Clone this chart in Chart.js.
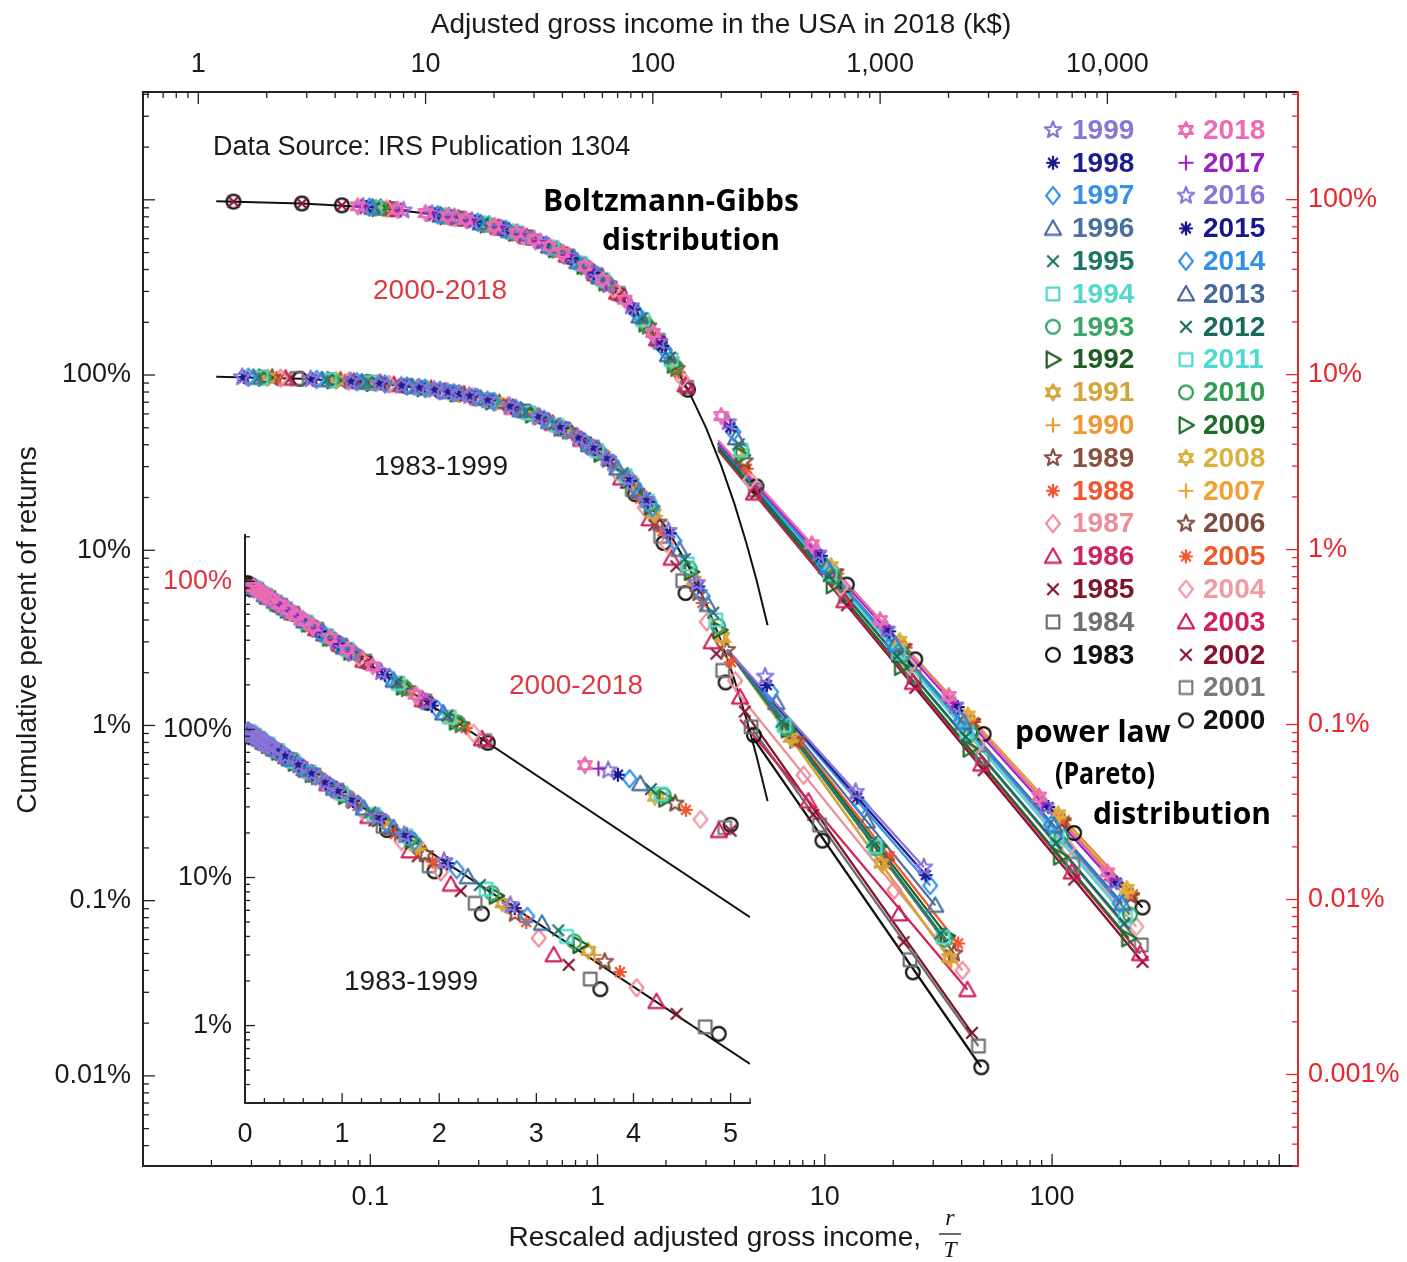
<!DOCTYPE html>
<html>
<head>
<meta charset="utf-8">
<script src="https://cdn.jsdelivr.net/npm/chart.js@4.4.1/dist/chart.umd.min.js"></script>
<style>
  html, body { margin: 0; padding: 0; background: #fff; }
  #wrap { position: relative; width: 1407px; height: 1262px; }
  #main { position: absolute; left: 0; top: 0; }
  #inset { position: absolute; left: 150px; top: 520px; }
</style>
</head>
<body>
<div id="wrap">
  <canvas id="main" width="1407" height="1262"></canvas>
  <canvas id="inset" width="610" height="640"></canvas>
</div>
<script>
// ---- data (percent of returns above rescaled income r/T) ----
var lowerYears = [1983,1984,1985,1986,1987,1988,1989,1990,1991,1992,1993,1994,1995,1996,1997,1998,1999];
var upperYears = [2000,2001,2002,2003,2004,2005,2006,2007,2008,2009,2010,2011,2012,2013,2014,2015,2016,2017,2018];

// Boltzmann-Gibbs part, 1983-1999 (last point of 1983-87 is the knee)
var lowerBody = [
  [[0.049,95.2],[0.098,90.7],[0.146,86.4],[0.244,78.3],[0.341,71.1],[0.488,61.4],[0.732,48.1],[0.976,37.7],[1.463,20.9],[1.951,11.0],[2.439,5.7],[3.659,1.76],[4.878,0.88]],
  [[0.0474,95.4],[0.0948,91.0],[0.142,86.8],[0.237,78.9],[0.332,71.7],[0.474,62.3],[0.711,49.1],[0.948,38.8],[1.422,22.2],[1.896,12.0],[2.370,6.7],[3.555,2.06],[4.739,0.98]],
  [[0.0444,95.7],[0.0889,91.5],[0.133,87.5],[0.222,80.1],[0.311,73.3],[0.444,64.1],[0.667,51.3],[0.889,41.1],[1.333,24.3],[1.778,13.9],[2.222,8.1],[3.333,2.57],[4.444,1.2]],
  [[0.0424,95.8],[0.0847,91.9],[0.127,88.1],[0.212,80.9],[0.297,74.3],[0.424,65.4],[0.636,52.9],[0.847,42.9],[1.271,25.8],[1.695,15.1],[2.119,9.0],[3.178,3.0],[4.237,1.45]],
  [[0.0403,96.0],[0.0806,92.3],[0.121,88.6],[0.202,81.7],[0.282,75.4],[0.403,66.8],[0.605,54.6],[0.806,44.7],[1.21,28.3],[1.613,17.5],[2.016,10.9],[3.024,3.9],[4.032,1.8]],
  [[0.0386,96.2],[0.0772,92.6],[0.116,89.0],[0.193,82.4],[0.270,76.3],[0.386,68.0],[0.579,56.0],[0.772,46.2],[1.158,30.5],[1.544,19.7],[1.931,12.8],[2.896,5.0],[3.861,2.3]],
  [[0.037,96.4],[0.074,92.9],[0.111,89.5],[0.185,83.1],[0.259,77.2],[0.370,69.1],[0.556,57.3],[0.741,47.7],[1.111,32.9],[1.481,21.6],[1.852,14.4],[2.778,5.7],[3.704,2.7]],
  [[0.036,96.5],[0.072,93.1],[0.108,89.8],[0.180,83.5],[0.252,77.7],[0.360,69.8],[0.540,58.3],[0.719,48.7],[1.079,34.0],[1.439,23.7],[1.799,15.7],[2.698,6.4],[3.597,3.0]],
  [[0.0353,96.5],[0.0707,93.2],[0.106,89.9],[0.177,83.8],[0.247,78.1],[0.353,70.3],[0.530,58.9],[0.707,49.3],[1.060,34.6],[1.413,24.3],[1.767,16.2],[2.650,6.7],[3.534,3.2]],
  [[0.0345,96.6],[0.069,93.3],[0.103,90.2],[0.172,84.2],[0.241,78.6],[0.345,70.8],[0.517,59.6],[0.690,50.2],[1.034,35.6],[1.379,25.2],[1.724,17.8],[2.586,7.53],[3.448,3.5]],
  [[0.0339,96.7],[0.0678,93.4],[0.102,90.3],[0.169,84.5],[0.237,78.9],[0.339,71.2],[0.508,60.2],[0.678,50.8],[1.017,36.2],[1.356,25.8],[1.695,18.4],[2.542,7.87],[3.390,3.7]],
  [[0.0331,96.7],[0.0662,93.6],[0.0993,90.5],[0.166,84.7],[0.232,79.3],[0.331,71.8],[0.497,60.8],[0.662,51.6],[0.993,37.0],[1.325,26.6],[1.656,19.1],[2.483,8.35],[3.311,4.0]],
  [[0.0323,96.8],[0.0645,93.8],[0.0968,90.8],[0.161,85.1],[0.226,79.8],[0.323,72.4],[0.484,61.6],[0.645,52.5],[0.968,38.0],[1.290,27.5],[1.613,19.9],[2.419,8.90],[3.226,4.4]],
  [[0.0306,97.0],[0.0612,94.1],[0.0917,91.2],[0.153,85.8],[0.214,80.7],[0.306,73.6],[0.459,63.2],[0.612,54.2],[0.917,40.0],[1.223,29.4],[1.529,21.7],[2.294,10.1],[3.058,4.9]],
  [[0.0291,97.1],[0.0581,94.4],[0.0872,91.6],[0.116,89.0],[0.145,86.5],[0.174,84.0],[0.203,81.6],[0.233,79.2],[0.291,74.8],[0.349,70.5],[0.436,64.7],[0.581,55.9],[0.727,48.3],[0.872,41.8],[1.163,31.3],[1.453,23.4],[1.744,17.5],[2.180,11.3],[2.907,5.46]],
  [[0.0278,97.3],[0.0556,94.6],[0.0833,92.0],[0.111,89.5],[0.139,87.0],[0.167,84.6],[0.194,82.4],[0.222,80.1],[0.25,77.9],[0.278,75.7],[0.333,71.7],[0.417,65.9],[0.556,57.4],[0.694,50.0],[0.833,43.5],[0.972,37.8],[1.111,32.9],[1.389,24.9],[1.667,18.9],[2.083,12.5],[2.778,6.22]],
  [[0.0273,97.3],[0.0546,94.7],[0.082,92.1],[0.109,89.7],[0.137,87.2],[0.164,84.9],[0.191,82.6],[0.219,80.3],[0.246,78.2],[0.273,76.1],[0.328,72.0],[0.410,66.4],[0.546,57.9],[0.683,50.5],[0.820,44.0],[0.956,38.4],[1.093,33.5],[1.366,25.5],[1.639,19.4],[2.049,12.9],[2.732,6.51]]
];
// Pareto tail, 1983-1999
var lowerTail = [
  [[9.76,0.22],[24.4,0.039],[48.8,0.0112]],
  [[9.48,0.27],[23.7,0.046],[47.4,0.0148]],
  [[8.89,0.31],[22.2,0.058],[44.4,0.0176]],
  [[8.47,0.37],[21.2,0.084],[42.4,0.031]],
  [[8.06,0.52],[20.2,0.115],[40.3,0.04]],
  [[7.72,0.81],[19.3,0.179],[38.6,0.057]],
  [[7.41,0.82],[18.5,0.167],[37.0,0.05]],
  [[7.19,0.82],[18.0,0.157],[36.0,0.045]],
  [[7.07,0.85],[17.7,0.163],[35.3,0.047]],
  [[6.90,0.95],[17.2,0.204],[34.5,0.063]],
  [[6.78,0.96],[16.9,0.199],[33.9,0.06]],
  [[6.62,1.0],[16.6,0.204],[33.1,0.062]],
  [[6.45,1.05],[16.1,0.216],[32.3,0.065]],
  [[6.12,1.35],[15.3,0.284],[30.6,0.094]],
  [[5.81,1.55],[14.5,0.348],[29.1,0.122]],
  [[5.56,1.7],[13.9,0.388],[27.8,0.14]],
  [[5.46,1.9],[13.66,0.418],[27.3,0.155]]
];
var lowerFit = [
  [[4.84,0.85],[48.8,0.0112]], [[4.74,0.98],[47.4,0.0148]], [[4.44,1.2],[44.4,0.0176]],
  [[4.24,1.08],[42.4,0.031]], [[4.03,1.6],[40.3,0.04]], [[3.72,2.7],[38.6,0.057]],
  [[3.72,2.7],[37.0,0.05]], [[3.72,2.7],[36.0,0.045]], [[3.72,2.7],[35.3,0.047]],
  [[3.72,2.7],[34.5,0.063]], [[3.72,2.7],[33.9,0.06]], [[3.72,2.7],[33.1,0.062]],
  [[3.72,2.7],[32.3,0.065]], [[3.72,2.7],[30.6,0.094]], [[3.72,2.7],[29.1,0.122]],
  [[3.72,2.7],[27.8,0.14]], [[3.72,2.7],[27.3,0.155]]
];

// Boltzmann-Gibbs part, 2000-2018 (last point is the knee)
var upperBody = [
  [[0.025,97.5],[0.05,95.1],[0.075,92.8],[0.125,88.2],[0.25,77.9],[0.375,68.7],[0.5,60.7],[0.75,47.2],[1.0,36.8],[1.25,28.7],[1.875,15.3],[2.5,8.2],[5.0,2.3]],
  [[0.123,88.4],[0.247,78.1],[0.370,69.1],[0.494,61.0],[0.741,47.7],[0.988,37.2],[1.235,29.1],[1.852,15.7],[2.469,8.47],[4.94,2.2]],
  [[0.025,97.5],[0.05,95.1],[0.075,92.8],[0.125,88.2],[0.25,77.9],[0.375,68.7],[0.5,60.7],[0.75,47.2],[1.0,36.8],[1.25,28.7],[1.875,15.3],[2.5,8.2],[5.0,2.1]],
  [[0.122,88.5],[0.244,78.3],[0.366,69.4],[0.488,61.4],[0.732,48.1],[0.976,37.7],[1.22,29.5],[1.83,16.0],[2.44,8.72],[4.88,2.1]],
  [[0.118,88.9],[0.235,79.1],[0.353,70.3],[0.471,62.4],[0.706,49.4],[0.941,39.0],[1.176,30.9],[1.765,17.1],[2.353,9.51],[4.69,2.5]],
  [[0.114,89.2],[0.227,79.7],[0.341,71.1],[0.455,63.4],[0.682,50.6],[0.909,40.3],[1.136,32.1],[1.705,18.2],[2.273,10.3],[4.54,2.9]],
  [[0.111,89.5],[0.222,80.1],[0.333,71.7],[0.444,64.1],[0.667,51.3],[0.889,41.1],[1.111,32.9],[1.667,18.9],[2.222,10.8],[4.43,3.2]],
  [[0.108,89.8],[0.215,80.7],[0.323,72.4],[0.430,65.0],[0.645,52.5],[0.860,42.3],[1.075,34.1],[1.613,19.9],[2.151,11.6],[4.30,3.45]],
  [[0.106,89.9],[0.213,80.8],[0.319,72.7],[0.426,65.3],[0.638,52.8],[0.851,42.7],[1.064,34.5],[1.596,20.3],[2.128,11.9],[4.22,3.55]],
  [[0.109,89.7],[0.217,80.5],[0.326,72.2],[0.435,64.7],[0.652,52.1],[0.870,41.9],[1.087,33.7],[1.630,19.6],[2.174,11.4],[4.33,3.45]],
  [[0.110,89.6],[0.220,80.3],[0.330,71.9],[0.440,64.4],[0.659,51.7],[0.879,41.5],[1.099,33.3],[1.648,19.2],[2.198,11.1],[4.31,3.65]],
  [[0.105,90.0],[0.211,81.0],[0.316,72.9],[0.421,65.6],[0.632,53.2],[0.842,43.1],[1.053,34.9],[1.579,20.6],[2.105,12.2],[4.28,3.7]],
  [[0.104,90.1],[0.208,81.2],[0.313,73.2],[0.417,65.9],[0.625,53.5],[0.833,43.5],[1.042,35.3],[1.563,21.0],[2.083,12.5],[4.18,4.0]],
  [[0.102,90.3],[0.204,81.5],[0.306,73.6],[0.408,66.5],[0.612,54.2],[0.816,44.2],[1.020,36.1],[1.531,21.6],[2.041,13.0],[4.07,4.35]],
  [[0.099,90.6],[0.198,82.0],[0.297,74.3],[0.396,67.3],[0.594,55.2],[0.792,45.3],[0.990,37.2],[1.485,22.6],[1.980,13.8],[3.96,4.7]],
  [[0.096,90.8],[0.192,82.5],[0.288,75.0],[0.385,68.1],[0.577,56.2],[0.769,46.3],[0.962,38.2],[1.442,23.6],[1.923,14.6],[3.84,5.0]],
  [[0.093,91.1],[0.140,86.9],[0.187,82.9],[0.234,79.1],[0.280,75.6],[0.374,68.8],[0.467,62.7],[0.561,57.1],[0.748,47.3],[0.935,39.3],[1.121,32.6],[1.402,24.6],[1.869,15.4],[3.74,5.35]],
  [[0.091,91.3],[0.136,87.3],[0.182,83.4],[0.227,79.7],[0.273,76.1],[0.364,69.5],[0.455,63.4],[0.545,58.0],[0.727,48.3],[0.909,40.3],[1.091,33.6],[1.364,25.6],[1.818,16.2],[3.64,5.5]],
  [[0.088,91.6],[0.1316,87.7],[0.175,83.9],[0.219,80.3],[0.263,76.9],[0.351,70.4],[0.439,64.5],[0.526,59.1],[0.614,54.1],[0.702,49.6],[0.877,41.6],[1.053,34.9],[1.316,26.8],[1.754,17.3],[3.50,5.8]]
];
// Pareto tail, 2000-2018
var upperTail = [
  [[12.5,0.631],[25,0.236],[50,0.0882],[125,0.024],[250,0.009]],
  [[12.35,0.541],[24.7,0.187],[49.4,0.0647],[123.5,0.0159],[247,0.0055]],
  [[12.5,0.481],[25,0.162],[50,0.0548],[125,0.013],[250,0.0044]],
  [[12.2,0.51],[24.4,0.174],[48.8,0.0594],[122,0.01435],[244,0.0049]],
  [[11.76,0.612],[23.5,0.2175],[47.1,0.0773],[117.6,0.0197],[235,0.007]],
  [[11.36,0.73],[22.7,0.275],[45.5,0.1035],[113.6,0.0284],[227,0.0107]],
  [[11.1,0.743],[22.2,0.277],[44.4,0.1035],[111,0.0281],[222,0.0105]],
  [[10.75,0.778],[21.5,0.29],[43,0.1084],[107.5,0.0295],[215,0.011]],
  [[10.64,0.804],[21.3,0.301],[42.6,0.1126],[106.4,0.0307],[213,0.0115]],
  [[10.87,0.626],[21.7,0.2137],[43.5,0.0729],[108.7,0.0176],[217,0.006]],
  [[10.99,0.701],[22.0,0.2504],[44.0,0.0894],[109.9,0.0229],[220,0.0082]],
  [[10.53,0.729],[21.05,0.2566],[42.1,0.0903],[105.3,0.0227],[210.5,0.008]],
  [[10.42,0.706],[20.8,0.245],[41.7,0.0851],[104.2,0.021],[208,0.0073]],
  [[10.2,0.797],[20.4,0.286],[40.8,0.1026],[102,0.0265],[204,0.0095]],
  [[9.9,0.824],[19.8,0.2935],[39.6,0.1045],[99,0.0267],[198,0.0095]],
  [[9.62,0.922],[19.2,0.341],[38.5,0.126],[96.2,0.0338],[192,0.0125]],
  [[9.35,0.95],[18.7,0.349],[37.4,0.128],[93.5,0.034],[187,0.0125]],
  [[9.09,0.989],[18.2,0.363],[36.4,0.133],[90.9,0.0354],[182,0.013]],
  [[8.77,1.072],[17.5,0.395],[35.1,0.1455],[87.7,0.0388],[175,0.0143]]
];
var upperFit = [
  [[3.4,4.0],[250,0.009]], [[3.4,3.9],[247,0.0055]], [[3.4,3.7],[250,0.0044]], [[3.4,3.7],[244,0.0049]],
  [[3.4,3.9],[235,0.007]], [[3.4,4.0],[227,0.0107]], [[3.4,4.0],[222,0.0105]], [[3.4,4.0],[215,0.011]],
  [[3.4,4.05],[213,0.0115]], [[3.4,3.8],[217,0.006]], [[3.4,4.0],[220,0.0082]], [[3.4,4.0],[210.5,0.008]],
  [[3.4,3.9],[208,0.0073]], [[3.4,4.05],[204,0.0095]], [[3.4,4.05],[198,0.0095]], [[3.4,4.1],[192,0.0125]],
  [[3.4,4.1],[187,0.0125]], [[3.4,4.1],[182,0.013]], [[3.4,4.2],[175,0.0143]]
];

// black Boltzmann-Gibbs curve (main) and its straight form in the inset
var curveX = [0.021,0.05,0.1,0.2,0.3,0.5,0.7,1,1.5,2,2.5,3,3.5,4,4.5,5,5.6];
var curveY = [97.9,95.1,90.5,81.9,74.1,60.7,49.7,36.8,22.3,13.5,8.21,4.98,3.02,1.83,1.11,0.674,0.37];
var insetCurveX = [0, 5.2];
var insetCurveY = [100, 0.55];

// tick labels
var bottomLabels = [0.1, 1, 10, 100];
var topLabels = [1, 10, 100, 1000, 10000];
var leftLabels = [100, 10, 1, 0.1, 0.01];
var rightLabels = [100, 10, 1, 0.1, 0.01, 0.001];
var insetXLabels = [0, 1, 2, 3, 4, 5];
var insetYLabels = [1000, 100, 10, 1];

// ---- styles ----
var lowerColors = ['#111111','#6f6f70','#7e1428','#d0245c','#ec8e98','#f25530','#8a5040','#f0982e','#d2a53a','#1d5c22','#3aa565','#52d8cc','#1c7565','#48709c','#3a8fe6','#1c1c8f','#8b74d8'];
var upperColors = ['#111111','#7a7a7a','#8a1030','#d2205a','#f09aa2','#f05a2a','#7d4d3d','#f2a032','#d9b13e','#1e6c28','#2f9d55','#4dd8d0','#18695e','#44699a','#2f8fea','#16168c','#8b74d8','#9a22c2','#ec6cb4'];
var shapeCycle = ['circle','square','x','triangle','diamond','asterisk','pentagram','plus','hexagram','rtriangle'];
var axisColor = '#222';
var red = '#e8262e';
var FONT = '"Liberation Sans", Arial, sans-serif';

function makeMarker(shape, color) {
  var c = document.createElement('canvas');
  c.width = 24; c.height = 24;
  var g = c.getContext('2d');
  g.translate(12, 12);
  g.scale(1.15, 1.15);
  g.strokeStyle = color;
  g.fillStyle = color;
  g.lineWidth = 1.9;
  g.lineJoin = 'round';
  g.beginPath();
  var k, a, r;
  if (shape === 'circle') g.arc(0, 0, 6, 0, 2 * Math.PI);
  if (shape === 'square') g.rect(-5.5, -5.5, 11, 11);
  if (shape === 'x') { g.moveTo(-5, -5); g.lineTo(5, 5); g.moveTo(5, -5); g.lineTo(-5, 5); }
  if (shape === 'plus') { g.moveTo(-6.5, 0); g.lineTo(6.5, 0); g.moveTo(0, -6.5); g.lineTo(0, 6.5); }
  if (shape === 'triangle') { g.moveTo(0, -7); g.lineTo(7, 5.5); g.lineTo(-7, 5.5); g.closePath(); }
  if (shape === 'rtriangle') { g.moveTo(-5.5, -7); g.lineTo(7, 0); g.lineTo(-5.5, 7); g.closePath(); }
  if (shape === 'diamond') { g.moveTo(0, -7.5); g.lineTo(6, 0); g.lineTo(0, 7.5); g.lineTo(-6, 0); g.closePath(); }
  if (shape === 'asterisk') {
    for (k = 0; k < 4; k++) { a = k * Math.PI / 4; g.moveTo(-6 * Math.cos(a), -6 * Math.sin(a)); g.lineTo(6 * Math.cos(a), 6 * Math.sin(a)); }
  }
  if (shape === 'pentagram') {
    for (k = 0; k < 10; k++) {
      r = k % 2 ? 3.2 : 7.5; a = -Math.PI / 2 + k * Math.PI / 5;
      if (k === 0) g.moveTo(r * Math.cos(a), r * Math.sin(a)); else g.lineTo(r * Math.cos(a), r * Math.sin(a));
    }
    g.closePath();
  }
  if (shape === 'hexagram') {
    for (var t = 0; t < 2; t++) {
      for (k = 0; k < 3; k++) {
        a = (t ? Math.PI / 2 : -Math.PI / 2) + k * 2 * Math.PI / 3;
        if (k === 0) g.moveTo(7 * Math.cos(a), 7 * Math.sin(a)); else g.lineTo(7 * Math.cos(a), 7 * Math.sin(a));
      }
      g.closePath();
    }
  }
  g.stroke();
  if (shape === 'asterisk') { g.beginPath(); g.arc(0, 0, 2.5, 0, 2 * Math.PI); g.fill(); }
  return c;
}

var lowerMarkers = lowerYears.map(function (y, i) { return makeMarker(shapeCycle[i % 10], lowerColors[i]); });
var upperMarkers = upperYears.map(function (y, i) { return makeMarker(shapeCycle[i % 10], upperColors[i]); });

function pts(arr) { return arr.map(function (p) { return { x: p[0], y: p[1] }; }); }
function pairs(xs, ys) { return xs.map(function (x, i) { return { x: x, y: ys[i] }; }); }

function logTicks(min, max) {
  var out = [];
  for (var e = Math.floor(Math.log10(min)); e <= Math.ceil(Math.log10(max)); e++) {
    for (var m = 1; m <= 9; m++) {
      var v = m * Math.pow(10, e);
      if (v >= min * 0.999 && v <= max * 1.001) out.push([v, m === 1]);
    }
  }
  return out;
}

function strokeLine(ctx, x1, y1, x2, y2) {
  ctx.beginPath(); ctx.moveTo(x1, y1); ctx.lineTo(x2, y2); ctx.stroke();
}

// ---- main chart ----
var mainSets = [];
mainSets.push({ data: pairs(curveX, curveY), yAxisID: 'y', showLine: true, borderColor: '#111', borderWidth: 2, pointRadius: 0, order: 1000 });
mainSets.push({ data: pairs(curveX, curveY), yAxisID: 'y2', showLine: true, borderColor: '#111', borderWidth: 2, pointRadius: 0, order: 1000 });
lowerYears.forEach(function (yr, i) {
  mainSets.push({ label: yr + ' fit', data: pts(lowerFit[i]), yAxisID: 'y', showLine: true, borderColor: lowerColors[i], borderWidth: 2.3, pointRadius: 0, order: 900 - i });
  mainSets.push({ label: String(yr), data: pts(lowerBody[i].concat(lowerTail[i])), yAxisID: 'y', showLine: false, pointStyle: lowerMarkers[i], pointRadius: 7, order: 500 - i });
});
upperYears.forEach(function (yr, i) {
  mainSets.push({ label: yr + ' fit', data: pts(upperFit[i]), yAxisID: 'y2', showLine: true, borderColor: upperColors[i], borderWidth: 2.3, pointRadius: 0, order: 850 - i });
  mainSets.push({ label: String(yr), data: pts(upperBody[i].concat(upperTail[i])), yAxisID: 'y2', showLine: false, pointStyle: upperMarkers[i], pointRadius: 7, order: 450 - i });
});

function hiddenLabels(extra) {
  var o = { grid: { display: false }, ticks: { display: false }, border: { display: true, color: axisColor, width: 2 } };
  for (var k in extra) o[k] = extra[k];
  return o;
}

var mainDecor = {
  id: 'mainDecor',
  afterDraw: function (chart) {
    var ctx = chart.ctx, a = chart.chartArea;
    var sx = chart.scales.x, st = chart.scales.xTop, sy = chart.scales.y, sr = chart.scales.y2;
    ctx.save();
    ctx.lineWidth = 1.3;
    ctx.strokeStyle = axisColor;
    logTicks(sx.min, sx.max).forEach(function (t) { var p = sx.getPixelForValue(t[0]); strokeLine(ctx, p, a.bottom, p, a.bottom - (t[1] ? 12 : 6)); });
    logTicks(st.min, st.max).forEach(function (t) { var p = st.getPixelForValue(t[0]); strokeLine(ctx, p, a.top, p, a.top + (t[1] ? 12 : 6)); });
    logTicks(sy.min, sy.max).forEach(function (t) { var p = sy.getPixelForValue(t[0]); strokeLine(ctx, a.left, p, a.left + (t[1] ? 12 : 6), p); });
    ctx.strokeStyle = red;
    logTicks(sr.min, sr.max).forEach(function (t) { var p = sr.getPixelForValue(t[0]); strokeLine(ctx, a.right, p, a.right - (t[1] ? 12 : 6), p); });

    // tick labels
    ctx.font = '27px ' + FONT;
    ctx.fillStyle = '#1a1a1a';
    ctx.textAlign = 'center';
    ctx.textBaseline = 'middle';
    bottomLabels.forEach(function (v) { ctx.fillText(String(v), sx.getPixelForValue(v), a.bottom + 32); });
    topLabels.forEach(function (v) { ctx.fillText(v.toLocaleString('en-US'), st.getPixelForValue(v), a.top - 27); });
    ctx.textAlign = 'right';
    leftLabels.forEach(function (v) { ctx.fillText(v + '%', a.left - 12, sy.getPixelForValue(v)); });
    ctx.textAlign = 'left';
    ctx.fillStyle = red;
    rightLabels.forEach(function (v) { ctx.fillText(v + '%', a.right + 10, sr.getPixelForValue(v)); });

    // axis titles
    ctx.fillStyle = '#1a1a1a';
    ctx.font = '28px ' + FONT;
    ctx.textAlign = 'center';
    ctx.fillText('Adjusted gross income in the USA in 2018 (k$)', 721, 25);
    ctx.textAlign = 'right';
    ctx.fillText('Rescaled adjusted gross income,', 921, 1238);
    ctx.font = 'italic 24px "Liberation Serif", serif';
    ctx.textAlign = 'center';
    ctx.fillText('r', 950, 1219);
    ctx.fillText('T', 950, 1251);
    ctx.strokeStyle = '#1a1a1a';
    ctx.lineWidth = 1.3;
    strokeLine(ctx, 939, 1234, 961, 1234);
    ctx.save();
    ctx.translate(28, 630);
    ctx.rotate(-Math.PI / 2);
    ctx.font = '28px ' + FONT;
    ctx.fillText('Cumulative percent of returns', 0, 0);
    ctx.restore();

    // annotations
    ctx.textAlign = 'left';
    ctx.font = '27px ' + FONT;
    ctx.fillText('Data Source: IRS Publication 1304', 213, 148);
    ctx.font = 'bold 30px "Open Sans", "Noto Sans", sans-serif';
    ctx.fillStyle = '#000';
    ctx.textAlign = 'center';
    ctx.fillText('Boltzmann-Gibbs', 671, 202, 270);
    ctx.fillText('distribution', 691, 241, 184);
    ctx.textAlign = 'left';
    ctx.fillText('power law', 1015, 733, 156);
    ctx.fillText('(Pareto)', 1055, 775, 100);
    ctx.fillText('distribution', 1093, 815, 183);
    ctx.font = '28px ' + FONT;
    ctx.textAlign = 'center';
    ctx.fillStyle = '#dc3a40';
    ctx.fillText('2000-2018', 440, 291);
    ctx.fillText('2000-2018', 576, 686);
    ctx.fillStyle = '#1a1a1a';
    ctx.fillText('1983-1999', 441, 467);
    ctx.fillText('1983-1999', 411, 982);

    // legend (two columns)
    ctx.font = 'bold 28px ' + FONT;
    ctx.textAlign = 'left';
    var r, i, y;
    for (r = 0; r < lowerYears.length; r++) {
      i = lowerYears.length - 1 - r; y = 130 + r * 32.8;
      ctx.drawImage(lowerMarkers[i], 1053 - 12, y - 12);
      ctx.fillStyle = lowerColors[i];
      ctx.fillText(String(lowerYears[i]), 1072, y + 1);
    }
    for (r = 0; r < upperYears.length; r++) {
      i = upperYears.length - 1 - r; y = 130 + r * 32.8;
      ctx.drawImage(upperMarkers[i], 1186 - 12, y - 12);
      ctx.fillStyle = upperColors[i];
      ctx.fillText(String(upperYears[i]), 1203, y + 1);
    }
    ctx.restore();
  }
};

new Chart(document.getElementById('main'), {
  type: 'scatter',
  data: { datasets: mainSets },
  options: {
    responsive: false, animation: false, devicePixelRatio: 1, events: [],
    layout: { padding: 0 },
    plugins: { legend: { display: false }, tooltip: { enabled: false } },
    scales: {
      x: hiddenLabels({ type: 'logarithmic', position: 'bottom', min: 0.01, max: 1208, afterFit: function (s) { s.height = 96; } }),
      xTop: hiddenLabels({ type: 'logarithmic', position: 'top', min: 0.571, max: 68977, afterFit: function (s) { s.height = 92; } }),
      y: hiddenLabels({ type: 'logarithmic', position: 'left', min: 0.00306, max: 4124, afterFit: function (s) { s.width = 143; } }),
      y2: { type: 'logarithmic', position: 'right', min: 0.000306, max: 412.4,
            grid: { display: false }, ticks: { display: false }, border: { display: true, color: red, width: 2 },
            afterFit: function (s) { s.width = 109; } }
    }
  },
  plugins: [mainDecor]
});

// ---- inset chart (linear r/T, log percent) ----
var insetSets = [];
insetSets.push({ data: pairs(insetCurveX, insetCurveY), yAxisID: 'y', showLine: true, borderColor: '#111', borderWidth: 2, pointRadius: 0, order: 1000 });
insetSets.push({ data: pairs(insetCurveX, insetCurveY), yAxisID: 'y2', showLine: true, borderColor: '#111', borderWidth: 2, pointRadius: 0, order: 1000 });
function nearZero(arr) { return arr.filter(function (p) { return p[0] <= 5.25; }); }
lowerYears.forEach(function (yr, i) {
  insetSets.push({ label: String(yr), data: pts(nearZero(lowerBody[i].concat(lowerTail[i]))), yAxisID: 'y', pointStyle: lowerMarkers[i], pointRadius: 7, order: 500 - i });
});
upperYears.forEach(function (yr, i) {
  insetSets.push({ label: String(yr), data: pts(nearZero(upperBody[i].concat(upperTail[i]))), yAxisID: 'y2', pointStyle: upperMarkers[i], pointRadius: 7, order: 450 - i });
});

var insetDecor = {
  id: 'insetDecor',
  afterDraw: function (chart) {
    var ctx = chart.ctx, a = chart.chartArea, sx = chart.scales.x, sy = chart.scales.y;
    ctx.save();
    ctx.strokeStyle = axisColor;
    ctx.lineWidth = 1.3;
    for (var k = 0; k <= 26; k++) {
      var p = sx.getPixelForValue(k * 0.2);
      strokeLine(ctx, p, a.bottom, p, a.bottom - (k % 5 === 0 ? 10 : 5));
    }
    logTicks(sy.min, sy.max).forEach(function (t) { var q = sy.getPixelForValue(t[0]); strokeLine(ctx, a.left, q, a.left + (t[1] ? 10 : 5), q); });
    ctx.font = '27px ' + FONT;
    ctx.textBaseline = 'middle';
    ctx.textAlign = 'center';
    ctx.fillStyle = '#1a1a1a';
    insetXLabels.forEach(function (v) { ctx.fillText(String(v), sx.getPixelForValue(v), a.bottom + 32); });
    ctx.textAlign = 'right';
    insetYLabels.forEach(function (v, i) {
      ctx.fillStyle = i === 0 ? '#e0303a' : '#1a1a1a';
      ctx.fillText((i === 0 ? 100 : v) + '%', a.left - 13, sy.getPixelForValue(v));
    });
    ctx.restore();
  }
};

new Chart(document.getElementById('inset'), {
  type: 'scatter',
  data: { datasets: insetSets },
  options: {
    responsive: false, animation: false, devicePixelRatio: 1, events: [],
    layout: { padding: { top: 15, right: 10, left: 0, bottom: 0 } },
    plugins: { legend: { display: false }, tooltip: { enabled: false } },
    scales: {
      x: hiddenLabels({ type: 'linear', position: 'bottom', min: 0, max: 5.2, afterFit: function (s) { s.height = 57; } }),
      y: hiddenLabels({ type: 'logarithmic', position: 'left', min: 0.308, max: 2056, afterFit: function (s) { s.width = 95; } }),
      y2: { type: 'logarithmic', position: 'right', min: 0.0308, max: 205.6,
            grid: { display: false }, ticks: { display: false }, border: { display: false },
            afterFit: function (s) { s.width = 0; } }
    }
  },
  plugins: [insetDecor]
});
</script>
</body>
</html>
